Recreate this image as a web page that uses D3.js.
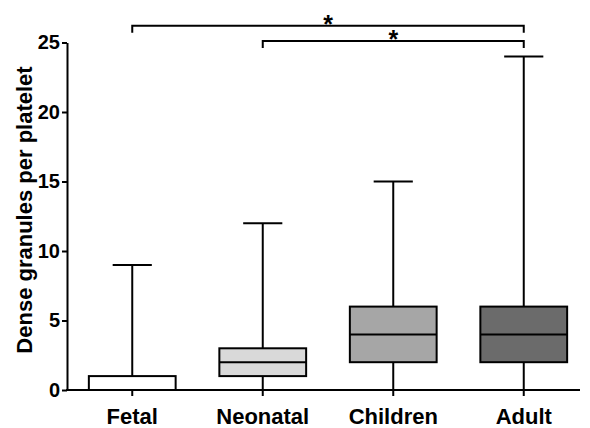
<!DOCTYPE html>
<html><head><meta charset="utf-8">
<script src="https://cdn.jsdelivr.net/npm/d3@7"></script>
<style>body{margin:0;background:#fff}svg{display:block}</style>
</head><body>
<svg id="c" width="590" height="428"></svg>
<script>
const categories = ["Fetal","Neonatal","Children","Adult"];
const whiskerMin = [0,0,0,0];
const q1 = [0,1,2,2];
const median = [0,2,4,4];
const q3 = [1,3,6,6];
const whiskerMax = [9,12,15,24];
const fills = ["#ffffff","#d9d9d9","#a6a6a6","#6b6b6b"];
const yTicks = [0,5,10,15,20,25];
const brackets = [{from:"Fetal",to:"Adult",level:26.2,label:"*"},{from:"Neonatal",to:"Adult",level:25.1,label:"*"}];

const svg = d3.select("#c");
const font = "Arial, 'Liberation Sans', sans-serif";
const x = d3.scaleBand().domain(categories).range([67,589]).paddingInner(0).paddingOuter(0);
const y = d3.scaleLinear().domain([0,25]).range([390,42.5]);
const bw = x.bandwidth()*0.665;
const cw = x.bandwidth()*0.3;

// y axis
const ya = svg.append("g").attr("transform","translate(67,0)")
  .call(d3.axisLeft(y).tickValues(yTicks).tickSize(5).tickPadding(2).tickSizeOuter(0));
ya.select(".domain").attr("stroke","#000").attr("stroke-width",2);
ya.selectAll(".tick line").attr("stroke","#000").attr("stroke-width",2);
ya.selectAll(".tick text").attr("font-family",font).attr("font-weight","bold").attr("font-size",20).attr("fill","#000");

// x axis
const xa = svg.append("g").attr("transform","translate(0,390)")
  .call(d3.axisBottom(x).tickSize(6).tickPadding(12).tickSizeOuter(0));
xa.select(".domain").attr("d","M66,0H580").attr("stroke","#000").attr("stroke-width",2);
xa.selectAll(".tick line").attr("stroke","#000").attr("stroke-width",2);
xa.selectAll(".tick text").attr("font-family",font).attr("font-weight","bold").attr("font-size",22).attr("fill","#000");

// y title
svg.append("text").attr("transform","translate(32,210) rotate(-90)")
  .attr("text-anchor","middle").attr("font-family",font).attr("font-weight","bold")
  .attr("font-size",22).text("Dense granules per platelet");

// boxes
const g = svg.append("g");
categories.forEach((c,i)=>{
  const cx = x(c)+x.bandwidth()/2;
  const gg = g.append("g").attr("stroke","#000").attr("stroke-width",2);
  gg.append("line").attr("x1",cx).attr("x2",cx).attr("y1",y(q3[i])).attr("y2",y(whiskerMax[i]));
  gg.append("line").attr("x1",cx).attr("x2",cx).attr("y1",y(q1[i])).attr("y2",y(whiskerMin[i]));
  gg.append("line").attr("x1",cx-cw/2).attr("x2",cx+cw/2).attr("y1",y(whiskerMax[i])).attr("y2",y(whiskerMax[i]));
  gg.append("rect").attr("x",cx-bw/2).attr("width",bw).attr("y",y(q3[i])).attr("height",y(q1[i])-y(q3[i])).attr("fill",fills[i]);
  gg.append("line").attr("x1",cx-bw/2).attr("x2",cx+bw/2).attr("y1",y(median[i])).attr("y2",y(median[i]));
});

// brackets
brackets.forEach(b=>{
  const x1 = x(b.from)+x.bandwidth()/2, x2 = x(b.to)+x.bandwidth()/2;
  const yy = y(b.level), drop = 7;
  svg.append("path").attr("d",`M${x1},${yy+drop}V${yy}H${x2}V${yy+drop}`)
    .attr("fill","none").attr("stroke","#000").attr("stroke-width",2);
  svg.append("text").attr("x",(x1+x2)/2).attr("y",yy+7).attr("text-anchor","middle")
    .attr("font-family",font).attr("font-weight","bold").attr("font-size",25).text(b.label);
});
</script>
</body></html>
